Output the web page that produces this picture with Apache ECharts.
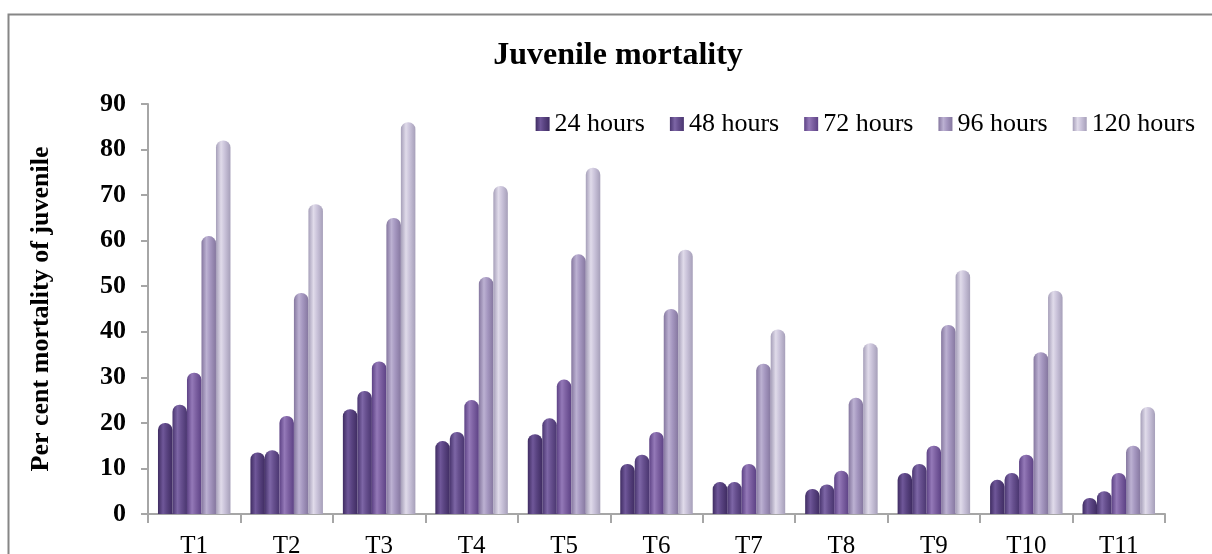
<!DOCTYPE html>
<html>
<head>
<meta charset="utf-8">
<script src="https://cdn.jsdelivr.net/npm/echarts@6/dist/echarts.min.js"></script>
<style>
  html, body { margin: 0; padding: 0; background: #fff; }
  #chart { width: 1212px; height: 554px; }
</style>
</head>
<body>
<div id="chart"></div>
<script>
  // treatments on the x axis
  var categories = ['T1', 'T2', 'T3', 'T4', 'T5', 'T6', 'T7', 'T8', 'T9', 'T10', 'T11'];
  var seriesNames = ['24 hours', '48 hours', '72 hours', '96 hours', '120 hours'];

  // per cent mortality of juvenile
  var h24 = [20, 13.5, 23, 16, 17.5, 11, 7, 5.5, 9, 7.5, 3.5];
  var h48 = [24, 14, 27, 18, 21, 13, 7, 6.5, 11, 9, 5];
  var h72 = [31, 21.5, 33.5, 25, 29.5, 18, 11, 9.5, 15, 13, 9];
  var h96 = [61, 48.5, 65, 52, 57, 45, 33, 25.5, 41.5, 35.5, 15];
  var h120 = [82, 68, 86, 72, 76, 58, 40.5, 37.5, 53.5, 49, 23.5];

  var yTicks = [0, 10, 20, 30, 40, 50, 60, 70, 80, 90];

  // edge / highlight / base for each cylinder
  var colors = [
    ['#3f2c62', '#6f5799', '#5a4482'],
    ['#4a3670', '#7d66a6', '#67508f'],
    ['#5d4285', '#9479b8', '#7e62a3'],
    ['#85779f', '#bcb1d2', '#a597c0'],
    ['#a69fb9', '#e0dbea', '#cac3da']
  ];

  function cyl(c) {
    return new echarts.graphic.LinearGradient(0, 0, 1, 0, [
      {offset: 0, color: c[0]},
      {offset: 0.35, color: c[1]},
      {offset: 0.6, color: c[2]},
      {offset: 1, color: c[0]}
    ]);
  }

  var allData = [h24, h48, h72, h96, h120];
  var series = [];
  for (var i = 0; i < seriesNames.length; i++) {
    series.push({
      name: seriesNames[i],
      type: 'bar',
      barWidth: 14.5,
      barGap: '0%',
      itemStyle: {
        color: cyl(colors[i]),
        borderRadius: [7, 7, 0, 0]
      },
      data: allData[i]
    });
  }

  var font = '"Liberation Serif", "Times New Roman", serif';
  var chart = echarts.init(document.getElementById('chart'));
  chart.setOption({
    backgroundColor: '#fff',
    animation: false,
    title: {
      text: 'Juvenile mortality',
      left: 613,
      top: 35,
      textAlign: 'center',
      textStyle: {fontFamily: font, fontSize: 32, fontWeight: 'bold', color: '#000'}
    },
    graphic: [{
      type: 'rect',
      left: 6, top: 12,
      shape: {width: 1230, height: 600},
      style: {fill: 'none', stroke: '#868686', lineWidth: 2},
      silent: true
    }],
    legend: {
      data: seriesNames,
      right: 12,
      top: 106,
      itemWidth: 14,
      itemHeight: 14,
      itemGap: 25,
      icon: 'rect',
      textStyle: {fontFamily: font, fontSize: 26, color: '#000'}
    },
    grid: {left: 148, top: 104, width: 1017, bottom: 40, outerBoundsMode: 'none', containLabel: false},
    xAxis: {
      type: 'category',
      data: categories,
      axisLine: {lineStyle: {color: '#a6a6a6', width: 2}},
      axisTick: {show: true, length: 9, lineStyle: {color: '#a6a6a6', width: 2}},
      axisLabel: {fontFamily: font, fontSize: 25, color: '#000', margin: 20}
    },
    yAxis: {
      type: 'value',
      min: yTicks[0],
      max: yTicks[yTicks.length - 1],
      interval: 10,
      name: 'Per cent mortality of juvenile',
      nameLocation: 'middle',
      nameGap: 94,
      nameTextStyle: {fontFamily: font, fontSize: 26, fontWeight: 'bold', color: '#000'},
      axisLine: {show: true, lineStyle: {color: '#a6a6a6', width: 2}},
      axisTick: {show: true, length: 7, lineStyle: {color: '#a6a6a6', width: 2}},
      axisLabel: {fontFamily: font, fontSize: 26, fontWeight: 'bold', color: '#000', margin: 22},
      splitLine: {show: false}
    },
    series: series
  });
</script>
</body>
</html>
